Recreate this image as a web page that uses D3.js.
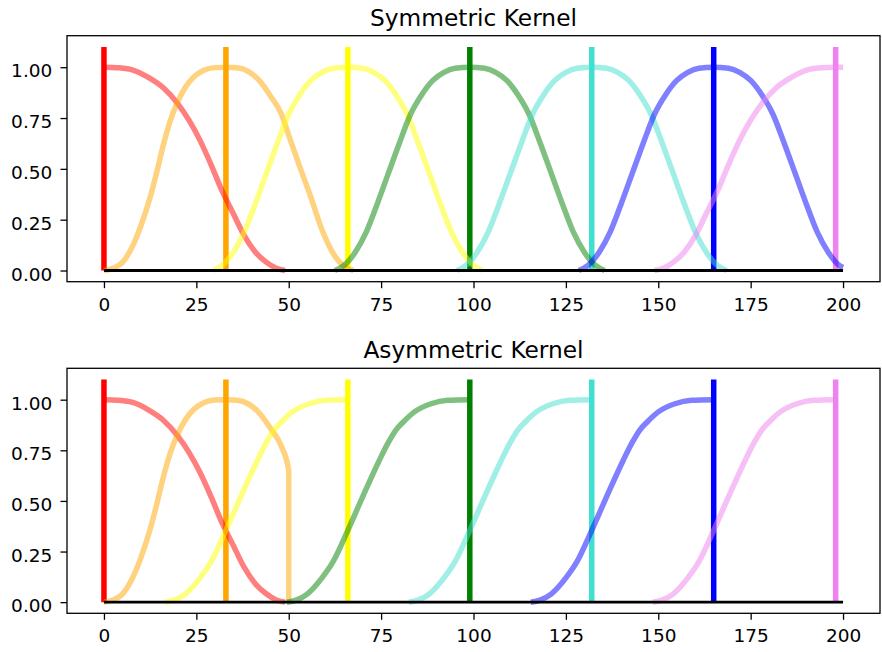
<!DOCTYPE html>
<html>
<head>
<meta charset="utf-8">
<script src="https://cdn.jsdelivr.net/npm/d3@7"></script>
<style>
  body { margin: 0; background: #fff; }
  svg { display: block; font-family: "DejaVu Sans", sans-serif; }
</style>
</head>
<body>
<svg id="chart" width="882" height="652"></svg>
<script>

var xTicks = [0, 25, 50, 75, 100, 125, 150, 175, 200];
var yTicks = [0, 0.25, 0.5, 0.75, 1.0];
var centers = [0, 33, 66, 99, 132, 165, 198];
var colors = ["red", "orange", "yellow", "green", "turquoise", "blue", "violet"];
var markerTop = 1.1;
var zeroLine = [[0, 0], [200, 0]];

// top panel as [x, value]
var symRed = [[0,1],[4,0.997],[8,0.985],[12,0.95],[16,0.9],[20,0.82],[23,0.74],[26,0.64],[29,0.52],[32,0.39],[35,0.28],[38,0.17],[41,0.09],[44,0.04],[46.5,0.012],[49,0]];
var symOrange = [[0,0],[3,0.015],[5,0.04],[8,0.13],[10,0.22],[12.5,0.36],[14.5,0.5],[16.1,0.62],[18,0.74],[19.7,0.82],[22,0.9],[24.2,0.95],[27,0.985],[30,0.998],[33,1],[36,0.997],[39,0.98],[42,0.935],[45,0.86],[48,0.77],[50,0.665],[53,0.51],[56,0.36],[59,0.2],[62,0.085],[65,0.02],[67.5,0]];
var symYellow = [[29.5,0],[32,0.025],[35,0.09],[38,0.19],[41,0.33],[44,0.48],[47,0.63],[50,0.77],[53,0.865],[56,0.935],[59,0.975],[62,0.995],[66,1],[70,0.995],[73,0.975],[76,0.935],[79,0.865],[82,0.77],[85,0.63],[88,0.48],[91,0.33],[94,0.19],[97,0.09],[100,0.025],[102.5,0]];
var symGreen = [[62.5,0],[65,0.025],[68,0.09],[71,0.19],[74,0.33],[77,0.48],[80,0.63],[83,0.77],[86,0.865],[89,0.935],[92,0.975],[95,0.995],[99,1],[103,0.995],[106,0.975],[109,0.935],[112,0.865],[115,0.77],[118,0.63],[121,0.48],[124,0.33],[127,0.19],[130,0.09],[133,0.025],[135.5,0]];
var symTurquoise = [[95.5,0],[98,0.025],[101,0.09],[104,0.19],[107,0.33],[110,0.48],[113,0.63],[116,0.77],[119,0.865],[122,0.935],[125,0.975],[128,0.995],[132,1],[136,0.995],[139,0.975],[142,0.935],[145,0.865],[148,0.77],[151,0.63],[154,0.48],[157,0.33],[160,0.19],[163,0.09],[166,0.025],[168.5,0]];
var symBlue = [[128.5,0],[131,0.025],[134,0.09],[137,0.19],[140,0.33],[143,0.48],[146,0.63],[149,0.77],[152,0.865],[155,0.935],[158,0.975],[161,0.995],[165,1],[169,0.995],[172,0.975],[175,0.935],[178,0.865],[181,0.77],[184,0.63],[187,0.48],[190,0.33],[193,0.19],[196,0.09],[199,0.025],[200,0.015]];
var symViolet = [[149,0],[151.5,0.012],[154,0.04],[157,0.09],[160,0.17],[163,0.28],[166,0.39],[169,0.52],[172,0.64],[175,0.74],[178,0.82],[182,0.9],[186,0.95],[190,0.985],[194,0.997],[198,1],[200,1]];

// bottom panel
var asymRed = [[0,1],[4,0.997],[8,0.985],[12,0.95],[16,0.9],[20,0.82],[23,0.74],[26,0.64],[29,0.52],[32,0.39],[35,0.28],[38,0.17],[41,0.09],[44,0.04],[46.5,0.012],[49,0]];
var asymOrange = [[0,0],[3,0.015],[5,0.04],[8,0.13],[10,0.22],[12.5,0.36],[14.5,0.5],[16.1,0.62],[18,0.74],[19.7,0.82],[22,0.9],[24.2,0.95],[27,0.985],[30,0.998],[33,1],[36,0.997],[39,0.98],[42,0.935],[45,0.86],[48,0.77],[50,0.65],[50.001,0]];
var asymYellow = [[16.5,0],[19,0.01],[22,0.04],[26,0.12],[29,0.2],[33,0.355],[37,0.52],[41.5,0.7],[44,0.79],[46,0.85],[48,0.89],[51,0.94],[55.5,0.98],[60,0.997],[66,1]];
var asymGreen = [[49.5,0],[52,0.01],[55,0.04],[59,0.12],[62,0.2],[66,0.355],[70,0.52],[74.5,0.7],[77,0.79],[79,0.85],[81,0.89],[84,0.94],[88.5,0.98],[93,0.997],[99,1]];
var asymTurquoise = [[82.5,0],[85,0.01],[88,0.04],[92,0.12],[95,0.2],[99,0.355],[103,0.52],[107.5,0.7],[110,0.79],[112,0.85],[114,0.89],[117,0.94],[121.5,0.98],[126,0.997],[132,1]];
var asymBlue = [[115.5,0],[118,0.01],[121,0.04],[125,0.12],[128,0.2],[132,0.355],[136,0.52],[140.5,0.7],[143,0.79],[145,0.85],[147,0.89],[150,0.94],[154.5,0.98],[159,0.997],[165,1]];
var asymViolet = [[148.5,0],[151,0.01],[154,0.04],[158,0.12],[161,0.2],[165,0.355],[169,0.52],[173.5,0.7],[176,0.79],[178,0.85],[180,0.89],[183,0.94],[187.5,0.98],[192,0.997],[198,1]];

var symmetric = [symRed, symOrange, symYellow, symGreen, symTurquoise, symBlue, symViolet];
var asymmetric = [asymRed, asymOrange, asymYellow, asymGreen, asymTurquoise, asymBlue, asymViolet];

var svg = d3.select("#chart");

drawPanel("Symmetric Kernel", symmetric, 35.7, 281.7, 26);
drawPanel("Asymmetric Kernel", asymmetric, 368.3, 613.3, 357.5);

function drawPanel(title, kernels, top, bottom, titleY) {
  var left = 67, right = 880;
  var x = d3.scaleLinear().domain([-10, 210]).range([left, right]);
  var y = d3.scaleLinear().domain([-0.055, 1.155]).range([bottom, top]);

  var g = svg.append("g");

  // vertical markers at each centre
  g.selectAll(".marker")
    .data(centers)
    .enter()
    .append("line")
    .attr("x1", function(d) { return x(d); })
    .attr("x2", function(d) { return x(d); })
    .attr("y1", y(0))
    .attr("y2", y(markerTop))
    .attr("stroke", function(d, i) { return colors[i]; })
    .attr("stroke-width", 5.5);

  var line = d3.line()
    .x(function(d) { return x(d[0]); })
    .y(function(d) { return y(d[1]); })
    .curve(d3.curveMonotoneX);

  g.selectAll(".kernel")
    .data(kernels)
    .enter()
    .append("path")
    .attr("d", line)
    .attr("fill", "none")
    .attr("stroke", function(d, i) { return colors[i]; })
    .attr("stroke-opacity", 0.5)
    .attr("stroke-width", 5.5)
    .attr("stroke-linejoin", "round");

  g.append("path")
    .datum(zeroLine)
    .attr("d", d3.line().x(function(d) { return x(d[0]); }).y(function(d) { return y(d[1]); }))
    .attr("stroke", "black")
    .attr("stroke-width", 2.8);

  // axes
  var xAxis = g.append("g")
    .attr("transform", "translate(0," + bottom + ")")
    .call(d3.axisBottom(x).tickValues(xTicks).tickSize(6.5).tickPadding(9.5));
  var yAxis = g.append("g")
    .attr("transform", "translate(" + left + ",0)")
    .call(d3.axisLeft(y).tickValues(yTicks).tickFormat(d3.format(".2f")).tickSize(6.5).tickPadding(8.2));

  [xAxis, yAxis].forEach(function(a) {
    a.select(".domain").remove();
    a.attr("font-family", null).attr("font-size", null);
    a.selectAll("line").attr("stroke", "#000").attr("stroke-width", 1.3);
    a.selectAll("text").attr("fill", "#000").style("font-size", "18.5px");
  });
  yAxis.selectAll("text").attr("dy", "0.52em");

  // frame
  g.append("rect")
    .attr("x", left)
    .attr("y", top)
    .attr("width", right - left)
    .attr("height", bottom - top)
    .attr("fill", "none")
    .attr("stroke", "#000")
    .attr("stroke-width", 1.3);

  g.append("text")
    .attr("x", (left + right) / 2)
    .attr("y", titleY)
    .attr("text-anchor", "middle")
    .style("font-size", "23.3px")
    .attr("fill", "#000")
    .text(title);
}

</script>
</body>
</html>
